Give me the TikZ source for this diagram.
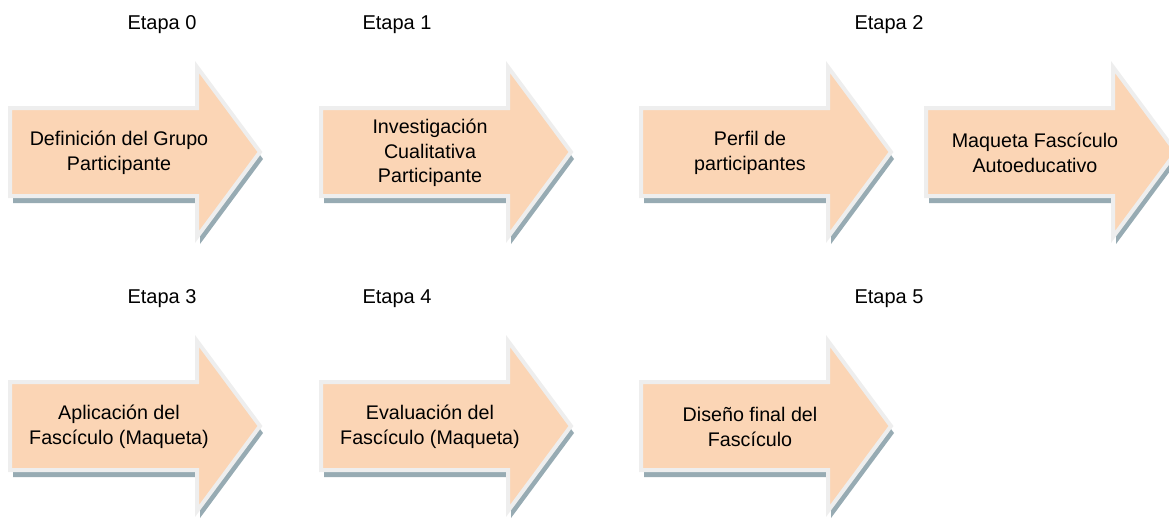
\documentclass[tikz,border=0pt]{standalone}
\usepackage{fontspec}
\setmainfont{Liberation Sans}
\usepackage{tikz}
\usetikzlibrary{shadows}
\definecolor{relleno}{HTML}{FBD5B5}
\definecolor{borde}{HTML}{EEEEEE}
\definecolor{sombra}{HTML}{97ABB3}

\tikzset{
  flecha/.style={fill=relleno,draw=borde,line width=4pt,line join=miter,
    drop shadow={shadow xshift=3pt,shadow yshift=-7pt,fill=sombra,opacity=1}},
  texto/.style={align=center,inner sep=0pt,font=\fontsize{19.7}{24.5}\selectfont},
  etapa/.style={inner sep=0pt,font=\fontsize{20}{24}\selectfont}
}

% block arrow: left x, centre y, name, text
\newcommand{\flecha}[4]{%
  \begin{scope}[shift={(#1,#2)}]
    \path[flecha] (-2,-44) -- (185,-44) -- (185,-85) -- (248,0) -- (185,85) -- (185,44) -- (-2,44) -- cycle;
    \node[texto] (#3) at (107,1) {#4};
  \end{scope}}

\begin{document}
\begin{tikzpicture}[x=1pt,y=-1pt]
\useasboundingbox (0,0) rectangle (1169,523);
\clip (0,0) rectangle (1169,523);

%stage labels
\foreach \n/\x/\y in {0/162/25,1/397/25,2/889/25,3/162/299,4/397/299,5/889/299}{
  \node[etapa] (etapa\n) at (\x,\y) {Etapa \n};
}

%first row
\flecha{12}{152}{definicion}{Definición del Grupo\\Participante}
\flecha{323}{152}{investigacion}{Investigación\\Cualitativa\\Participante}
\flecha{643}{152}{perfil}{Perfil de\\participantes}
\flecha{928}{152}{maqueta}{Maqueta Fascículo\\Autoeducativo}

%second row
\flecha{12}{426}{aplicacion}{Aplicación del\\Fascículo (Maqueta)}
\flecha{323}{426}{evaluacion}{Evaluación del\\Fascículo (Maqueta)}
\flecha{643}{426}{diseno}{Diseño final del\\Fascículo}
\end{tikzpicture}
\end{document}
